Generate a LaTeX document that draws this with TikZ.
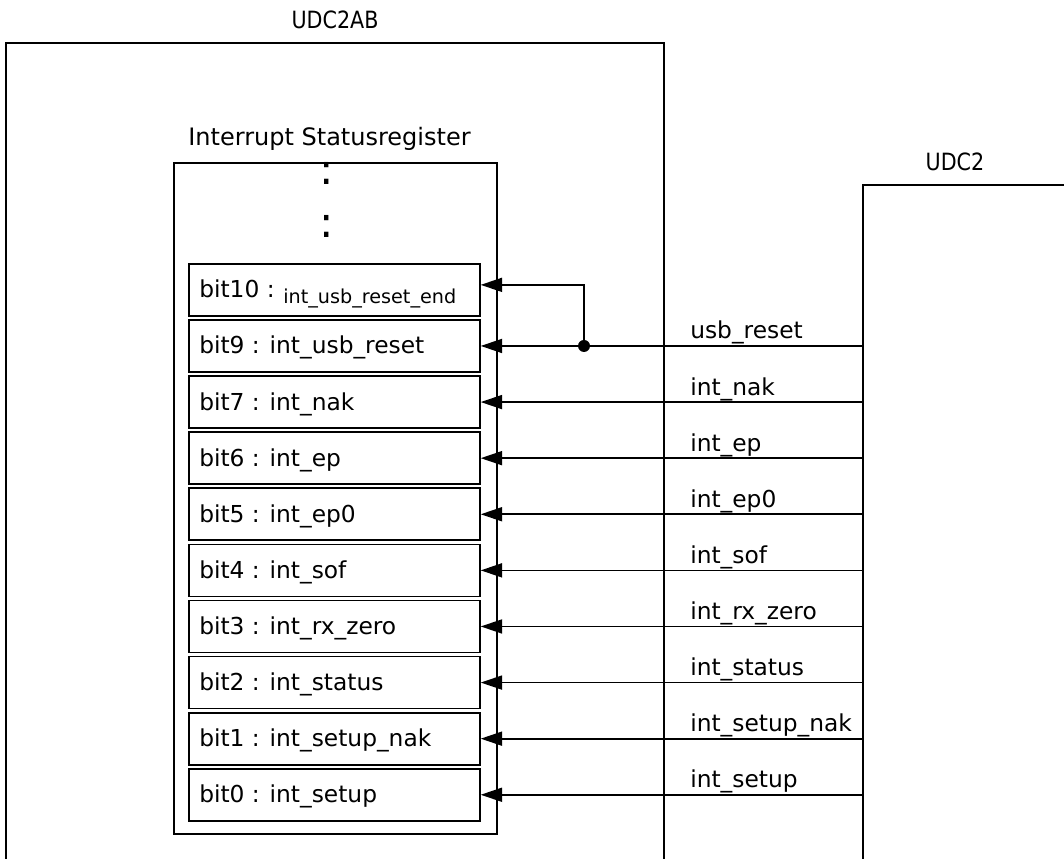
\documentclass[tikz,border=0pt]{standalone}
\usepackage{fontspec}
\setmainfont{DejaVu Sans}
\usetikzlibrary{arrows.meta,calc}
\begin{document}
\begin{tikzpicture}[x=0.75pt,y=-0.75pt,
  frame/.style={line width=1.3pt},
  bitbox/.style={draw,line width=1.3pt,minimum width=218.25pt,minimum height=39pt,inner sep=0pt,anchor=north west},
  bittext/.style={anchor=base west,inner sep=0pt,font=\fontsize{17.5}{20}\selectfont},
  smalltext/.style={anchor=base west,inner sep=0pt,font=\fontsize{14.4}{17}\selectfont},
  sig/.style={line width=1.3pt,-{Triangle[length=16pt,width=10.5pt]}},
  siglabel/.style={anchor=base west,inner sep=0pt,font=\fontsize{17.5}{20}\selectfont},
  title/.style={inner sep=0pt,font=\fontsize{15.5}{18}\selectfont},
  regtitle/.style={anchor=base,inner sep=0pt,font=\fontsize{18}{20}\selectfont},
  dots/.style={inner sep=0pt,font=\fontsize{32}{34}\selectfont}]
\useasboundingbox (0,0) rectangle (1064,859);

% UDC2AB block (open at bottom)
\draw[frame] (6,859) -- (6,43) -- (664,43) -- (664,859);
\node[title,yscale=1.15] (udc2abt) at (335,20) {UDC2AB};

% UDC2 block (open at right and bottom)
\draw[frame] (1064,185) -- (863,185) -- (863,859);
\node[title,yscale=1.15] (udc2t) at (955,162) {UDC2};

% Interrupt status register
\node[draw,frame,minimum width=242.25pt,minimum height=503.25pt,inner sep=0pt,anchor=north west] (reg) at (173,162) {};
\node[regtitle] (regt) at (329.5,146) {Interrupt Statusregister};
\node[dots] (d1) at (327,173) {:};
\node[dots] (d2) at (327,226) {:};

% bit boxes
\node[bitbox] (b10) at (188,263.0) {};
\node[bitbox] (b9)  at (188,319.1) {};
\node[bitbox] (b7)  at (188,375.2) {};
\node[bitbox] (b6)  at (188,431.3) {};
\node[bitbox] (b5)  at (188,487.4) {};
\node[bitbox] (b4)  at (188,543.5) {};
\node[bitbox] (b3)  at (188,599.6) {};
\node[bitbox] (b2)  at (188,655.7) {};
\node[bitbox] (b1)  at (188,711.8) {};
\node[bitbox] (b0)  at (188,767.9) {};

\node[bittext] (t10) at ($(b10.west)+(11,8)$) {bit10 :};
\node[smalltext] (t10b) at ($(b10.west)+(95,14)$) {int\_usb\_reset\_end};
\node[bittext] (t9) at ($(b9.west)+(11,8)$) {bit9 : int\_usb\_reset};
\node[bittext] (t7) at ($(b7.west)+(11,8)$) {bit7 : int\_nak};
\node[bittext] (t6) at ($(b6.west)+(11,8)$) {bit6 : int\_ep};
\node[bittext] (t5) at ($(b5.west)+(11,8)$) {bit5 : int\_ep0};
\node[bittext] (t4) at ($(b4.west)+(11,8)$) {bit4 : int\_sof};
\node[bittext] (t3) at ($(b3.west)+(11,8)$) {bit3 : int\_rx\_zero};
\node[bittext] (t2) at ($(b2.west)+(11,8)$) {bit2 : int\_status};
\node[bittext] (t1) at ($(b1.west)+(11,8)$) {bit1 : int\_setup\_nak};
\node[bittext] (t0) at ($(b0.west)+(11,8)$) {bit0 : int\_setup};

% helper coordinates
\coordinate (uedge) at (863,0);
\coordinate (lbl) at (690,0);
\coordinate (jx) at (584,0);

% signals
\foreach \b/\name in {9/usb\_reset,7/int\_nak,6/int\_ep,5/int\_ep0,4/int\_sof,3/int\_rx\_zero,2/int\_status,1/int\_setup\_nak,0/int\_setup}{
  \draw[sig] (b\b.east -| uedge) -- (b\b.east);
  \node[siglabel] at ($(b\b.east -| lbl)+(0,-7)$) {\name};
}

% branch to bit10
\coordinate (j) at (b9.east -| jx);
\fill (j) circle[radius=4.5pt];
\draw[sig] (j) |- ($(b10.east)+(0,-5)$);
\end{tikzpicture}
\end{document}
